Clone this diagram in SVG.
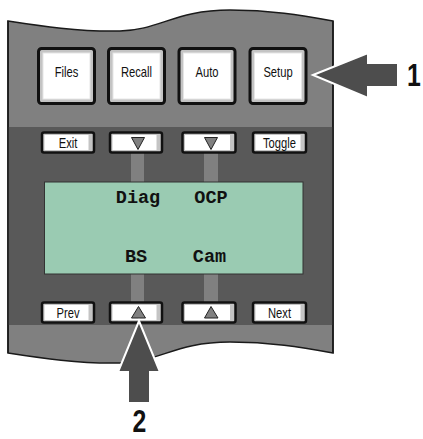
<svg xmlns="http://www.w3.org/2000/svg" width="423" height="439" viewBox="0 0 423 439">
<style>
.big{fill:#c4c4c4;stroke:#111;stroke-width:3}
.bigin{fill:#fff;stroke:#e6e6e6;stroke-width:1}
.sm{fill:#c4c4c4;stroke:#111;stroke-width:2.5}
.smin{fill:#fff}
.lbl{font-family:"Liberation Sans",Arial,sans-serif;font-size:14px;fill:#111;text-anchor:middle}
.lcd{font-family:"Liberation Mono","Courier New",monospace;font-weight:bold;font-size:18.5px;fill:#111;text-anchor:middle}
.tri{fill:#808080;stroke:#222;stroke-width:1}
.chan{fill:#808080}
.arrow{fill:#4d4d4d;stroke:#fff;stroke-width:2;stroke-linejoin:miter}
.num{font-family:"Liberation Sans",Arial,sans-serif;font-weight:bold;font-size:31px;fill:#111;text-anchor:middle}
</style>
<rect width="423" height="439" fill="#fff"/>
<g id="panel">
<path d="M8,21 C40,26 80,32 120,31 C160,30 175,10 230,10 C270,10 300,15 333,21 L333,353 C300,347 270,342 230,342 C175,342 160,362 120,363 C80,364 40,358 8,353 Z" fill="#808080" stroke="#1a1a1a" stroke-width="1.5"/>
<rect x="8" y="127" width="325" height="198" fill="#595959"/>
<line x1="333" y1="21" x2="333" y2="353" stroke="#1a1a1a" stroke-width="1.5"/>
<line x1="8" y1="21" x2="8" y2="353" stroke="#1a1a1a" stroke-width="1.5"/>
<rect class="chan" x="131" y="150" width="13" height="155"/>
<rect class="chan" x="204" y="150" width="14" height="155"/>
</g>
<g id="btn-files"><rect class="big" x="38.5" y="48.5" width="56" height="55" rx="3"/><rect class="bigin" x="43" y="53" width="47" height="46"/><text class="lbl" transform="translate(66.5,77) scale(0.8,1)">Files</text></g>
<g id="btn-recall"><rect class="big" x="108.5" y="48.5" width="56" height="55" rx="3"/><rect class="bigin" x="113" y="53" width="47" height="46"/><text class="lbl" transform="translate(136.5,77) scale(0.8,1)">Recall</text></g>
<g id="btn-auto"><rect class="big" x="179" y="48.5" width="56" height="55" rx="3"/><rect class="bigin" x="183.5" y="53" width="47" height="46"/><text class="lbl" transform="translate(207,77) scale(0.8,1)">Auto</text></g>
<g id="btn-setup"><rect class="big" x="250" y="48.5" width="56" height="55" rx="3"/><rect class="bigin" x="254.5" y="53" width="47" height="46"/><text class="lbl" transform="translate(278,77) scale(0.8,1)">Setup</text></g>
<g id="btn-exit"><rect class="sm" x="42" y="132.5" width="52" height="20" rx="2"/><rect class="smin" x="44.5" y="135" width="44" height="15"/><text class="lbl" transform="translate(68,148) scale(0.8,1)">Exit</text></g>
<g id="btn-down1"><rect class="sm" x="110" y="132.5" width="52" height="20" rx="2"/><rect class="smin" x="112.5" y="135" width="44" height="15"/><path class="tri" d="M131.5,137.5 L144.5,137.5 L138,149.5 Z"/></g>
<g id="btn-down2"><rect class="sm" x="182.5" y="132.5" width="53" height="20" rx="2"/><rect class="smin" x="185" y="135" width="45" height="15"/><path class="tri" d="M204.5,137.5 L217.5,137.5 L211,149.5 Z"/></g>
<g id="btn-toggle"><rect class="sm" x="253" y="132.5" width="53" height="20" rx="2"/><rect class="smin" x="255.5" y="135" width="45" height="15"/><text class="lbl" transform="translate(279.5,148) scale(0.8,1)">Toggle</text></g>
<g id="lcd">
<rect x="44.5" y="182" width="258.5" height="92" fill="#9acbb2" stroke="#333" stroke-width="1"/>
<text class="lcd" x="138" y="203">Diag</text>
<text class="lcd" x="211" y="203">OCP</text>
<text class="lcd" x="136" y="262">BS</text>
<text class="lcd" x="209.5" y="262">Cam</text>
</g>
<g id="btn-prev"><rect class="sm" x="42" y="302.5" width="52" height="20" rx="2"/><rect class="smin" x="44.5" y="305" width="44" height="15"/><text class="lbl" transform="translate(68,318) scale(0.8,1)">Prev</text></g>
<g id="btn-up1"><rect class="sm" x="110" y="302.5" width="52" height="20" rx="2"/><rect class="smin" x="112.5" y="305" width="44" height="15"/><path class="tri" d="M131.5,318 L145.5,318 L138.5,306.5 Z"/></g>
<g id="btn-up2"><rect class="sm" x="182.5" y="302.5" width="53" height="20" rx="2"/><rect class="smin" x="185" y="305" width="45" height="15"/><path class="tri" d="M204.5,318 L218,318 L211,306.5 Z"/></g>
<g id="btn-next"><rect class="sm" x="253" y="302.5" width="53" height="20" rx="2"/><rect class="smin" x="255.5" y="305" width="45" height="15"/><text class="lbl" transform="translate(279.5,318) scale(0.8,1)">Next</text></g>
<g id="connectors">
<path class="arrow" d="M313,75 L368,53 L368,63 L398,63 L398,87 L368,87 L368,98 Z"/>
<path class="arrow" d="M139,321 L160,372 L150,372 L150,403 L128,403 L128,372 L118,372 Z"/>
</g>
<g id="labels">
<text class="num" transform="translate(414,85.5) scale(0.8,1)">1</text>
<text class="num" transform="translate(139.5,432) scale(0.8,1)">2</text>
</g>
</svg>
